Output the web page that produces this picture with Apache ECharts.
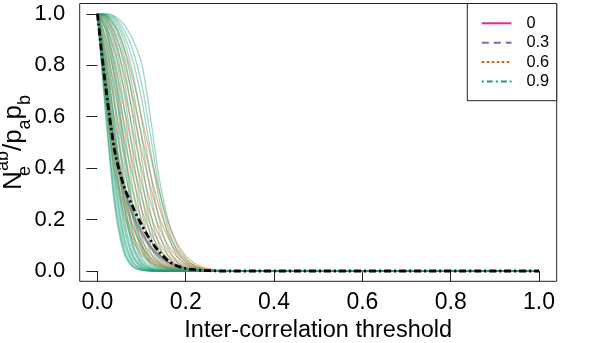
<!DOCTYPE html>
<html>
<head>
<meta charset="utf-8">
<script src="https://cdn.jsdelivr.net/npm/echarts@6/dist/echarts.min.js"></script>
<style>
  html, body { margin: 0; padding: 0; background: #fff; }
  #chart { width: 598px; height: 343px; }
</style>
</head>
<body>
<div id="chart"></div>
<script>
// x positions shared by every curve (threshold)
var xs = [0, 0.02, 0.04, 0.06, 0.08, 0.10, 0.12, 0.14, 0.16, 0.18, 0.20, 0.22, 0.24, 0.26, 0.28, 0.30, 1.0];
var tickValues = [0, 0.2, 0.4, 0.6, 0.8, 1.0];
var legendNames = ["0", "0.3", "0.6", "0.9"];

// rho = 0
var rho0 = [
  [1, .70, .46, .32, .22, .15, .095, .058, .034, .019, .010, .005, .002, .001, 0, 0, 0]
];
// rho = 0.3
var rho03 = [
  [1, .70, .47, .31, .21, .14, .090, .055, .032, .018, .009, .004, .002, .001, 0, 0, 0],
  [1, .73, .50, .34, .23, .155, .10, .062, .037, .020, .010, .005, .002, .001, 0, 0, 0],
  [1, .71, .48, .33, .22, .15, .097, .060, .035, .019, .010, .005, .002, .001, 0, 0, 0]
];
// rho = 0.6
var rho06 = [
  [1, .64, .38, .22, .12, .065, .033, .016, .007, .003, .001, 0, 0, 0, 0, 0, 0],
  [1, .67, .41, .25, .14, .078, .040, .020, .009, .004, .002, .001, 0, 0, 0, 0, 0],
  [1, .70, .45, .28, .17, .095, .050, .026, .012, .005, .002, .001, 0, 0, 0, 0, 0],
  [1, .72, .47, .30, .18, .10, .055, .028, .013, .006, .002, .001, 0, 0, 0, 0, 0],
  [1, .76, .52, .34, .21, .12, .068, .036, .018, .008, .003, .001, 0, 0, 0, 0, 0],
  [1, .80, .58, .40, .26, .16, .090, .050, .026, .012, .005, .002, .001, 0, 0, 0, 0],
  [1, .84, .64, .46, .31, .20, .12, .067, .036, .018, .008, .003, .001, 0, 0, 0, 0],
  [1, .87, .70, .52, .37, .24, .15, .088, .048, .024, .011, .005, .002, .001, 0, 0, 0],
  [1, .90, .75, .58, .42, .29, .18, .11, .062, .032, .016, .007, .003, .001, 0, 0, 0],
  [1, .93, .80, .64, .48, .34, .22, .135, .078, .042, .021, .010, .004, .002, .001, 0, 0],
  [1, .95, .85, .71, .55, .40, .27, .17, .10, .055, .028, .013, .006, .002, .001, 0, 0],
  [1, .97, .89, .77, .62, .47, .33, .21, .13, .072, .037, .018, .008, .003, .001, 0, 0],
  [1, .98, .92, .82, .68, .53, .38, .25, .15, .085, .045, .022, .010, .004, .0015, 0, 0],
  [1, .99, .95, .87, .75, .60, .45, .31, .19, .11, .060, .030, .014, .006, .002, .001, 0]
];
// rho = 0.9
var rho09 = [
  [1, .58, .24, .07, .015, .003, 0, 0, 0, 0, 0, 0, 0, 0, 0, 0, 0],
  [1, .60, .26, .08, .018, .004, 0, 0, 0, 0, 0, 0, 0, 0, 0, 0, 0],
  [1, .62, .28, .09, .020, .004, 0, 0, 0, 0, 0, 0, 0, 0, 0, 0, 0],
  [1, .66, .32, .11, .030, .006, .001, 0, 0, 0, 0, 0, 0, 0, 0, 0, 0],
  [1, .68, .35, .13, .035, .008, .002, 0, 0, 0, 0, 0, 0, 0, 0, 0, 0],
  [1, .70, .37, .14, .040, .010, .002, 0, 0, 0, 0, 0, 0, 0, 0, 0, 0],
  [1, .73, .41, .17, .055, .014, .003, 0, 0, 0, 0, 0, 0, 0, 0, 0, 0],
  [1, .75, .44, .19, .060, .017, .004, .001, 0, 0, 0, 0, 0, 0, 0, 0, 0],
  [1, .77, .46, .21, .070, .020, .005, .001, 0, 0, 0, 0, 0, 0, 0, 0, 0],
  [1, .80, .51, .25, .090, .027, .007, .002, 0, 0, 0, 0, 0, 0, 0, 0, 0],
  [1, .82, .54, .27, .10, .030, .008, .002, 0, 0, 0, 0, 0, 0, 0, 0, 0],
  [1, .84, .56, .29, .11, .035, .010, .002, 0, 0, 0, 0, 0, 0, 0, 0, 0],
  [1, .88, .62, .34, .14, .045, .013, .003, .001, 0, 0, 0, 0, 0, 0, 0, 0],
  [1, .90, .66, .37, .16, .055, .016, .004, .001, 0, 0, 0, 0, 0, 0, 0, 0],
  [1, .93, .72, .44, .21, .080, .025, .007, .002, 0, 0, 0, 0, 0, 0, 0, 0],
  [1, .94, .75, .48, .24, .095, .030, .009, .002, 0, 0, 0, 0, 0, 0, 0, 0],
  [1, .95, .78, .51, .26, .11, .038, .011, .003, .001, 0, 0, 0, 0, 0, 0, 0],
  [1, .96, .82, .57, .32, .14, .050, .016, .004, .001, 0, 0, 0, 0, 0, 0, 0],
  [1, .97, .86, .64, .39, .19, .075, .025, .007, .002, 0, 0, 0, 0, 0, 0, 0],
  [1, .98, .89, .70, .46, .24, .10, .035, .010, .003, .001, 0, 0, 0, 0, 0, 0],
  [1, .985, .91, .75, .53, .30, .14, .050, .016, .004, .001, 0, 0, 0, 0, 0, 0],
  [1, .99, .93, .80, .60, .37, .18, .070, .024, .007, .002, 0, 0, 0, 0, 0, 0],
  [1, .99, .95, .84, .66, .44, .23, .10, .035, .010, .003, .001, 0, 0, 0, 0, 0],
  [1, .995, .96, .87, .71, .52, .31, .15, .060, .020, .006, .001, 0, 0, 0, 0, 0],
  [1, .995, .97, .90, .77, .59, .38, .20, .090, .035, .012, .003, 0, 0, 0, 0, 0],
  [1, .995, .98, .92, .82, .67, .47, .28, .14, .060, .025, .008, .002, 0, 0, 0, 0],
  [1, 1, .985, .94, .86, .73, .53, .32, .17, .080, .035, .012, .003, 0, 0, 0, 0],
  [1, 1, .99, .96, .90, .81, .60, .36, .20, .10, .050, .020, .006, .001, 0, 0, 0]
];
// mean curve (black)
var meanCurve = [1, .70, .46, .33, .25, .18, .12, .075, .040, .020, .010, .005, .002, .001, 0, 0, 0];

var colors = ["#E7298A", "#7570B3", "#D95F02", "#1B9E77"];
var groups = [rho0, rho03, rho06, rho09];

var series = [];
groups.forEach(function (g, gi) {
  g.forEach(function (ys) {
    series.push({
      type: 'line',
      data: xs.map(function (x, i) { return [x, ys[i]]; }),
      showSymbol: false,
      smooth: 0.3,
      clip: false,
      silent: true,
      lineStyle: { color: colors[gi], width: 1.3, opacity: gi === 3 ? 0.42 : 0.45 }
    });
  });
});
series.push({
  type: 'line',
  data: xs.map(function (x, i) { return [x, meanCurve[i]]; }),
  showSymbol: false,
  smooth: 0.3,
  clip: false,
  silent: true,
  lineStyle: { color: '#000', width: 2.8, type: [7, 3, 2, 3] }
});

var font = 'Liberation Sans, Arial, Helvetica, sans-serif';

// legend (R style, top right corner of the plot box)
var legendDash = ['solid', [7, 5], [2.5, 2.5], [2, 3, 6, 3]];
var legendEls = [{
  type: 'rect', shape: { x: 467.3, y: 3.5, width: 89.4, height: 97.2 },
  style: { fill: '#fff', stroke: '#222', lineWidth: 1 }, z: 10
}];
legendNames.forEach(function (n, i) {
  var y = 23.3 + i * 19.4;
  legendEls.push({
    type: 'line', shape: { x1: 481.8, y1: y, x2: 511.5, y2: y },
    style: { stroke: colors[i], lineWidth: 2, lineDash: legendDash[i] === 'solid' ? null : legendDash[i] }, z: 11
  });
  legendEls.push({
    type: 'text', x: 526.5, y: y,
    style: { text: n, font: '16.3px ' + font, fill: '#000', verticalAlign: 'middle', textAlign: 'left' }, z: 11
  });
});

var chart = echarts.init(document.getElementById('chart'));
chart.setOption({
  animation: false,
  grid: { left: 79.7, right: 41.3, top: 3.5, bottom: 61.7, containLabel: false, outerBoundsMode: 'none',
    show: true, borderColor: '#222', borderWidth: 1, backgroundColor: 'transparent' },
  xAxis: {
    type: 'value', min: -0.04, max: 1.04,
    axisLine: { show: false },
    axisTick: { show: true, length: 11, lineStyle: { color: '#222' }, customValues: tickValues },
    splitLine: { show: false },
    axisLabel: { color: '#000', fontSize: 23, fontFamily: font, margin: 10, customValues: tickValues,
      formatter: function (v) { return v.toFixed(1); } }
  },
  yAxis: {
    type: 'value', min: -0.04, max: 1.04,
    axisLine: { show: false },
    axisTick: { show: true, length: 11, lineStyle: { color: '#222' }, customValues: tickValues },
    splitLine: { show: false },
    axisLabel: { color: '#000', fontSize: 22, fontFamily: font, margin: 14.5, customValues: tickValues,
      formatter: function (v) { return v.toFixed(1); } },
    name: '{m|N}{e|e}{s|ab}{m|/p}{b|a}{m|p}{b|b}',
    nameLocation: 'middle',
    nameRotate: 90,
    nameGap: 45.7,
    nameMoveOverlap: false,
    nameTextStyle: {
      color: '#000', fontFamily: font, fontSize: 26, lineHeight: 40,
      rich: {
        m: { fontSize: 26, lineHeight: 40, fontFamily: font, color: '#000' },
        e: { fontSize: 18, lineHeight: 16.6, verticalAlign: 'bottom', width: 0.01, fontFamily: font, color: '#000' },
        s: { fontSize: 18, lineHeight: 35, verticalAlign: 'top', fontFamily: font, color: '#000' },
        b: { fontSize: 18, lineHeight: 16.6, verticalAlign: 'bottom', fontFamily: font, color: '#000' }
      }
    }
  },
  series: series,
  graphic: [
    { type: 'text', x: 318.2, y: 331,
      style: { text: 'Inter-correlation threshold', font: '23.5px ' + font, fill: '#000',
        textAlign: 'center', verticalAlign: 'middle' } }
  ].concat(legendEls)
});
</script>
</body>
</html>
